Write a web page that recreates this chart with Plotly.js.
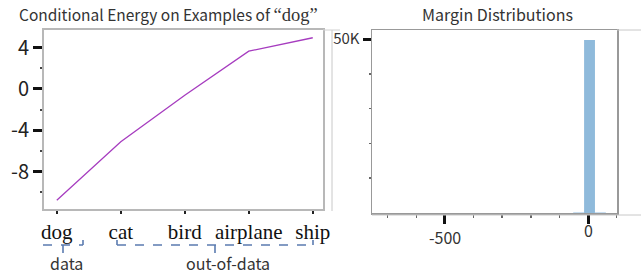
<!DOCTYPE html>
<html>
<head>
<meta charset="utf-8">
<script src="https://cdn.plot.ly/plotly-3.0.1.min.js"></script>
<style>html,body{margin:0;padding:0;background:#fff;}#chart{width:641px;height:275px;}</style>
</head>
<body>
<div id="chart"></div>
<script>
// ---- data ----
const categories = ['dog', 'cat', 'bird', 'airplane', 'ship'];
const energy = [-10.75, -5.1, -0.6, 3.65, 4.95];
const energyTickVals = [-8, -4, 0, 4];
const energyTickText = ['-8', '-4', '0', '4'];
const marginBins = [-33, 5, 43];
const marginCounts = [300, 49700, 300];
const marginTickVals = [-500, 0];
const marginTickText = ['-500', '0'];
const countTickVals = [50000];
const countTickText = ['50K'];
const groupLabels = ['data', 'out-of-data'];
const leftTitle = 'Conditional Energy on Examples of <span style="font-family:\'Liberation Serif\',serif;font-size:18.5px">“dog”</span>';
const rightTitle = 'Margin Distributions';

const W = 641, H = 275;
const px = x => x / W;
const py = y => 1 - y / H;
const sans = '"Noto Sans CJK SC", "Noto Sans", sans-serif';
const serif = '"Liberation Serif", serif';
const bracketColor = '#5b7bb0';

const traces = [
  {
    type: 'scatter', mode: 'lines', x: categories, y: energy,
    xaxis: 'x', yaxis: 'y',
    line: {color: '#a63cbf', width: 1.3},
    hoverinfo: 'skip', showlegend: false
  },
  {
    type: 'bar', x: marginBins, y: marginCounts, width: 38,
    xaxis: 'x2', yaxis: 'y2',
    marker: {color: ['#c9def0', '#8fbadb', '#c9def0'], line: {width: 0}},
    hoverinfo: 'skip', showlegend: false
  }
];

const shapes = [];
function seg(x0, y0, x1, y1, color, width, dash) {
  shapes.push({type: 'line', xref: 'paper', yref: 'paper',
    x0: px(x0), y0: py(y0), x1: px(x1), y1: py(y1),
    line: {color: color, width: width, dash: dash || 'solid'}});
}
// brackets
seg(43, 245, 83, 245, bracketColor, 1.6, 'dash');
seg(83, 245, 83, 240, bracketColor, 1.6);
seg(63, 245, 63, 253, bracketColor, 1.6);
seg(117, 245, 313, 245, bracketColor, 1.6, 'dash');
seg(117, 245, 117, 240, bracketColor, 1.6);
seg(313, 245, 313, 240, bracketColor, 1.6);
seg(215, 245, 215, 253, bracketColor, 1.6);
// extra frame lines
seg(332, 30, 332, 211, '#c8c8c8', 1);
seg(323, 30, 340, 30, '#d0d0d0', 1);
seg(617, 30, 641, 30, '#c8c8c8', 1);
seg(372, 215, 641, 215, '#c8c8c8', 1);

const annotations = [
  {text: leftTitle, x: px(169), y: py(14), xref: 'paper', yref: 'paper', showarrow: false,
   font: {family: sans, size: 15.5, color: '#333'}, xanchor: 'center', yanchor: 'middle'},
  {text: rightTitle, x: px(497), y: py(14), xref: 'paper', yref: 'paper', showarrow: false,
   font: {family: sans, size: 16, color: '#333'}, xanchor: 'center', yanchor: 'middle'},
  {text: groupLabels[0], x: px(66), y: py(263), xref: 'paper', yref: 'paper', showarrow: false,
   font: {family: sans, size: 16, color: '#333'}, xanchor: 'center', yanchor: 'middle', borderpad: 0},
  {text: groupLabels[1], x: px(228), y: py(263), xref: 'paper', yref: 'paper', showarrow: false,
   font: {family: sans, size: 16, color: '#333'}, xanchor: 'center', yanchor: 'middle', borderpad: 0},
  {text: marginTickText[0], x: marginTickVals[0], y: py(237), xref: 'x2', yref: 'paper', showarrow: false,
   font: {family: sans, size: 16, color: '#333'}, xanchor: 'center', yanchor: 'middle'},
  {text: marginTickText[1], x: marginTickVals[1], y: py(230), xref: 'x2', yref: 'paper', showarrow: false,
   font: {family: sans, size: 16, color: '#333'}, xanchor: 'center', yanchor: 'middle'}
];

const layout = {
  width: W, height: H,
  margin: {l: 0, r: 0, t: 0, b: 0},
  paper_bgcolor: '#fff', plot_bgcolor: '#fff',
  showlegend: false,
  xaxis: {
    domain: [px(44), px(323)], range: [-0.2, 4.16], anchor: 'y',
    type: 'category', categoryorder: 'array', categoryarray: categories,
    showgrid: false, zeroline: false,
    showline: true, linecolor: '#b8b8b8', linewidth: 2, mirror: true,
    ticks: 'outside', ticklen: 3, tickwidth: 2, tickcolor: '#222',
    tickfont: {family: serif, size: 21, color: '#111'}
  },
  yaxis: {
    domain: [py(209), py(30)], range: [-11.6, 5.7], anchor: 'x',
    tickvals: energyTickVals, ticktext: energyTickText,
    showgrid: false, zeroline: false,
    showline: true, linecolor: '#b8b8b8', linewidth: 2, mirror: true,
    ticks: 'outside', ticklen: 9, tickwidth: 3, tickcolor: '#111',
    tickfont: {family: sans, size: 20, color: '#222'},
    minor: {tickvals: [-10, -6, -2, 2], ticks: 'outside', ticklen: 2, tickwidth: 2, tickcolor: '#444', showgrid: false}
  },
  xaxis2: {
    domain: [px(372), px(617)], range: [-755, 101], anchor: 'y2',
    tickvals: marginTickVals, ticktext: ['', ''],
    showgrid: false, zeroline: false,
    showline: true, linecolor: '#999', linewidth: 1.5, mirror: true,
    ticks: 'outside', ticklen: 9, tickwidth: 3, tickcolor: '#111',
    minor: {tickvals: [-700, -600, -400, -300, -200, -100, 100], ticks: 'outside', ticklen: 3, tickwidth: 1.5, tickcolor: '#666', showgrid: false}
  },
  yaxis2: {
    domain: [py(213), py(30)], range: [0, 52600], anchor: 'x2',
    tickvals: countTickVals, ticktext: countTickText,
    showgrid: false, zeroline: false,
    showline: true, linecolor: '#999', linewidth: 1.5, mirror: true,
    ticks: 'outside', ticklen: 8, tickwidth: 3, tickcolor: '#111',
    tickfont: {family: sans, size: 15, color: '#333'},
    minor: {tickvals: [10000, 20000, 30000, 40000], ticks: 'outside', ticklen: 2, tickwidth: 1.5, tickcolor: '#666', showgrid: false}
  },
  shapes: shapes,
  annotations: annotations
};

Plotly.newPlot('chart', traces, layout, {displayModeBar: false, staticPlot: true});
</script>
</body>
</html>
